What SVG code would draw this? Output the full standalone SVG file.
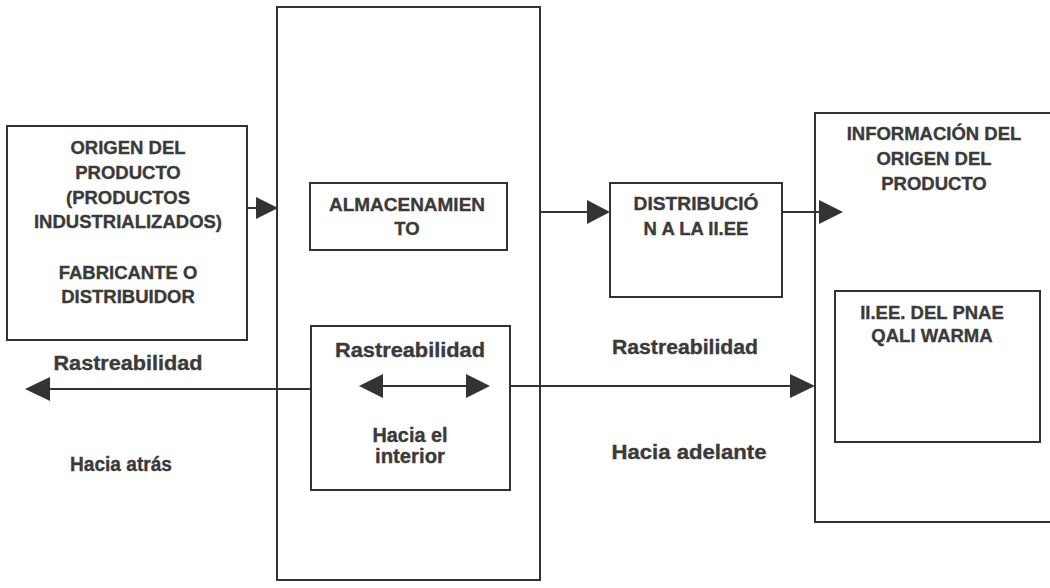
<svg xmlns="http://www.w3.org/2000/svg" width="1050" height="588" viewBox="0 0 1050 588">
<style>
.box{fill:none;stroke:#333;stroke-width:2}
.ln{fill:none;stroke:#333;stroke-width:2}
.hd{fill:#333;stroke:none}
text{font-family:"Liberation Sans",Arial,sans-serif;font-weight:bold;font-size:18.5px;fill:#3a3a3a;stroke:#3a3a3a;stroke-width:0.35;text-anchor:middle}
text.lc{font-size:20px}
</style>
<rect width="1050" height="588" fill="#fff"/>
<g id="origen">
<rect class="box" x="7" y="126" width="240" height="214"/>
<text x="128" y="154">ORIGEN DEL</text>
<text x="128" y="179">PRODUCTO</text>
<text x="128" y="204">(PRODUCTOS</text>
<text x="128" y="228">INDUSTRIALIZADOS)</text>
<text x="128" y="279">FABRICANTE O</text>
<text x="128" y="303">DISTRIBUIDOR</text>
</g>
<g id="centro">
<rect class="box" x="277" y="7" width="263" height="573"/>
</g>
<g id="almacenamiento">
<rect class="box" x="310" y="183" width="197" height="67"/>
<text x="407" y="211" textLength="156" lengthAdjust="spacingAndGlyphs">ALMACENAMIEN</text>
<text x="407" y="235">TO</text>
</g>
<g id="interior">
<rect class="box" x="311" y="326" width="199" height="164"/>
<text class="lc" x="410" y="357" textLength="150" lengthAdjust="spacingAndGlyphs">Rastreabilidad</text>
<text class="lc" x="410" y="442" textLength="75" lengthAdjust="spacingAndGlyphs">Hacia el</text>
<text class="lc" x="410" y="463" textLength="70" lengthAdjust="spacingAndGlyphs">interior</text>
</g>
<g id="distribucion">
<rect class="box" x="610" y="183" width="172" height="114"/>
<text x="696" y="210" textLength="125" lengthAdjust="spacingAndGlyphs">DISTRIBUCIÓ</text>
<text x="696" y="235">N A LA II.EE</text>
</g>
<g id="informacion">
<path class="box" d="M1050,113 H815 V522 H1050"/>
<text x="934" y="140">INFORMACIÓN DEL</text>
<text x="934" y="165">ORIGEN DEL</text>
<text x="934" y="190">PRODUCTO</text>
</g>
<g id="iiee">
<rect class="box" x="835" y="291" width="205" height="151"/>
<text x="932" y="319">II.EE. DEL PNAE</text>
<text x="932" y="342">QALI WARMA</text>
</g>
<g id="etiquetas">
<text class="lc" x="128" y="370" textLength="149" lengthAdjust="spacingAndGlyphs">Rastreabilidad</text>
<text class="lc" x="121" y="471" textLength="102" lengthAdjust="spacingAndGlyphs">Hacia atrás</text>
<text class="lc" x="685" y="354" textLength="146" lengthAdjust="spacingAndGlyphs">Rastreabilidad</text>
<text class="lc" x="689" y="459" textLength="155" lengthAdjust="spacingAndGlyphs">Hacia adelante</text>
</g>
<g id="connectors">
<line class="ln" x1="247" y1="208" x2="258" y2="208"/>
<polygon class="hd" points="256,197 278,208 256,219"/>
<line class="ln" x1="540" y1="212" x2="590" y2="212"/>
<polygon class="hd" points="587,200 610,212 587,224"/>
<line class="ln" x1="782" y1="212" x2="822" y2="212"/>
<polygon class="hd" points="819,200 843,212 819,224"/>
<line class="ln" x1="311" y1="389" x2="48" y2="389"/>
<polygon class="hd" points="50,377 25,389 50,401"/>
<line class="ln" x1="510" y1="386" x2="792" y2="386"/>
<polygon class="hd" points="790,374 815,386 790,398"/>
<line class="ln" x1="380" y1="386" x2="468" y2="386"/>
<polygon class="hd" points="383,374 359,386 383,398"/>
<polygon class="hd" points="466,374 490,386 466,398"/>
</g>
</svg>
